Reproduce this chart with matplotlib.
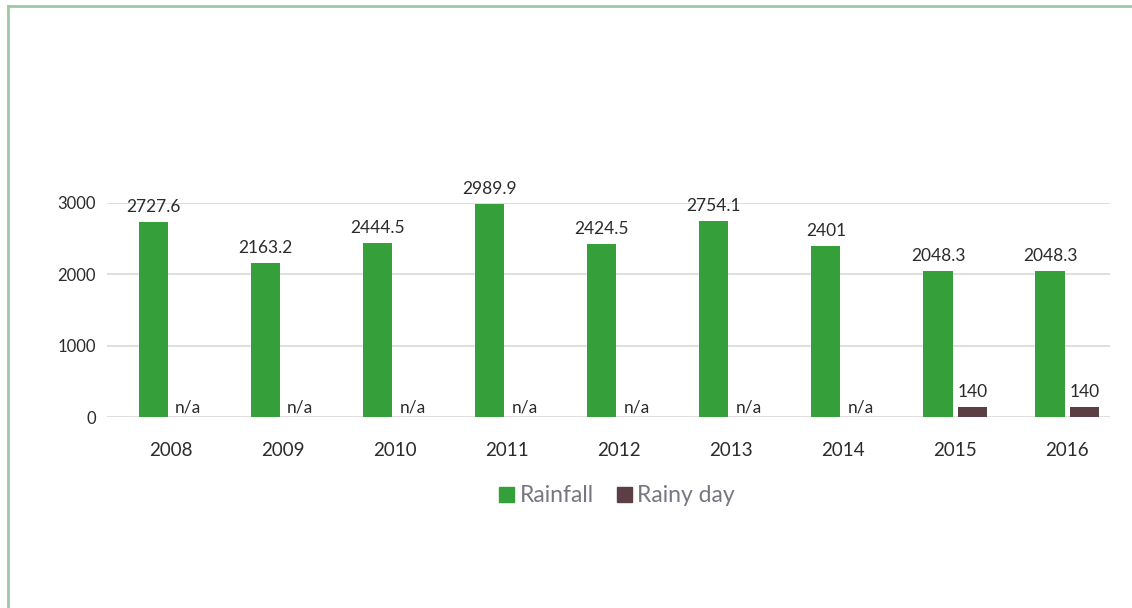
import matplotlib.pyplot as plt
from matplotlib.lines import Line2D
from matplotlib.patches import Patch
import numpy as np

years = ["2008", "2009", "2010", "2011", "2012", "2013", "2014", "2015", "2016"]
rainfall = [2727.6, 2163.2, 2444.5, 2989.9, 2424.5, 2754.1, 2401, 2048.3, 2048.3]
rainy_days = [None, None, None, None, None, None, None, 140, 140]
rainfall_labels = ["2727.6", "2163.2", "2444.5", "2989.9", "2424.5", "2754.1", "2401", "2048.3", "2048.3"]

green = "#35a03a"
brown = "#5b3f45"
text_col = "#2b2b2b"

plt.rcParams["font.family"] = ["Lato", "DejaVu Sans"]

fig = plt.figure(figsize=(11.32, 6.08), dpi=100)
ax = fig.add_axes([107 / 1132, 1 - 417 / 608, (1110 - 107) / 1132, (417 - 203) / 608])

x = np.arange(len(years))
w = 0.26
off = 0.155

ax.bar(x - off, rainfall, width=w, color=green, zorder=3)
days_vals = [v if v is not None else 0 for v in rainy_days]
ax.bar(x + off, days_vals, width=w, color=brown, zorder=3)

for i, v in enumerate(rainfall):
    ax.annotate(rainfall_labels[i], (x[i] - off, v), xytext=(0, 5), textcoords="offset points",
                ha="center", va="bottom", fontsize=12.5, color=text_col, clip_on=False)
for i, v in enumerate(rainy_days):
    if v is None:
        ax.annotate("n/a", (x[i] + off, 0), xytext=(0, 1), textcoords="offset points",
                    ha="center", va="bottom", fontsize=12.5, color=text_col)
    else:
        ax.annotate(str(v), (x[i] + off, v), xytext=(0, 5), textcoords="offset points",
                    ha="center", va="bottom", fontsize=12.5, color=text_col)

ax.set_xlim(-0.57, 8.38)
ax.set_ylim(0, 3000)
ax.set_yticks([0, 1000, 2000, 3000])
ax.set_xticks(x)
ax.set_xticklabels(years)
ax.tick_params(axis="both", length=0, labelcolor=text_col)
ax.tick_params(axis="x", pad=18, labelsize=13.5)
ax.tick_params(axis="y", pad=8, labelsize=12)
ax.grid(axis="y", color="#d9d9d9", linewidth=1.2, zorder=0)
for s in ax.spines.values():
    s.set_visible(False)

handles = [Patch(color=green, label="Rainfall"), Patch(color=brown, label="Rainy day")]
fig.legend(handles=handles, loc="center", bbox_to_anchor=(617 / 1132, 1 - 496 / 608), ncol=2,
           frameon=False, fontsize=16.5, labelcolor="#7a7580", handlelength=0.65, handleheight=0.65,
           handletextpad=0.25, columnspacing=1.0)

# green frame around the figure
fig.add_artist(Line2D([8 / 1132, 1], [1 - 6 / 608, 1 - 6 / 608], color="#9cc8a4", linewidth=2))
fig.add_artist(Line2D([8 / 1132, 8 / 1132], [0, 1 - 6 / 608], color="#9cc8a4", linewidth=2))

fig.savefig("out.png", dpi=100, facecolor="white")
